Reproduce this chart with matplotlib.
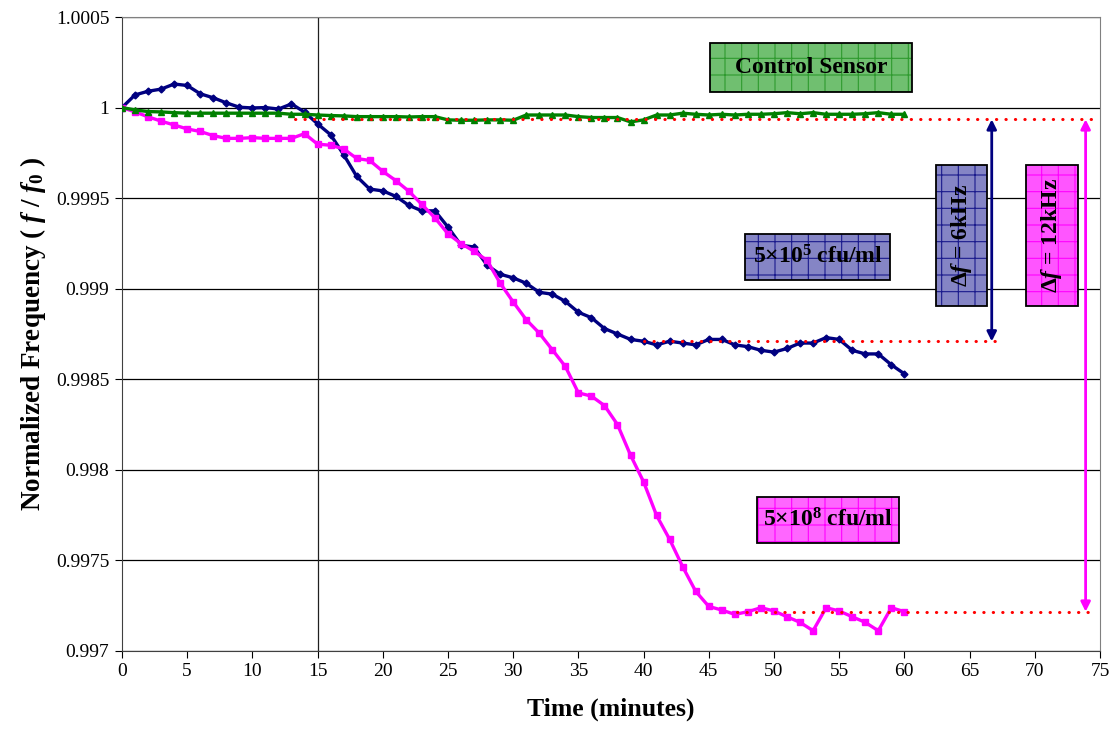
import numpy as np
import matplotlib.pyplot as plt
from matplotlib.patches import Rectangle

plt.rcParams['font.family'] = 'Liberation Serif'
plt.rcParams['mathtext.fontset'] = 'custom'
plt.rcParams['mathtext.rm'] = 'Liberation Serif:bold'
plt.rcParams['mathtext.it'] = 'Liberation Serif:italic:bold'
plt.rcParams['mathtext.bf'] = 'Liberation Serif:bold'
plt.rcParams['hatch.linewidth'] = 0.8

# sensor readings, one per minute
minutes = np.arange(61)

low_conc = [1.0, 1.000070, 1.000090, 1.000102, 1.000130, 1.000122, 1.000076, 1.000054,
            1.000026, 1.000002, 0.999998, 1.0, 0.999992, 1.000020, 0.999975, 0.99991,
            0.99985, 0.99974, 0.99962, 0.99955, 0.99954, 0.99951, 0.99946, 0.99943,
            0.99943, 0.99934, 0.99924, 0.99923, 0.99913, 0.99908, 0.99906, 0.99903,
            0.99898, 0.99897, 0.99893, 0.99887, 0.99884, 0.99878, 0.99875, 0.99872,
            0.99871, 0.99869, 0.99871, 0.99870, 0.99869, 0.99872, 0.99872, 0.99869,
            0.99868, 0.99866, 0.99865, 0.99867, 0.99870, 0.99870, 0.99873, 0.99872,
            0.99866, 0.99864, 0.99864, 0.99858, 0.99853]

high_conc = [1.0, 0.999976, 0.999949, 0.999925, 0.999904, 0.999882, 0.999868, 0.999845,
             0.99983, 0.99983, 0.999834, 0.99983, 0.99983, 0.99983, 0.999856, 0.999798,
             0.999792, 0.999772, 0.999719, 0.999708, 0.999648, 0.999597, 0.999538, 0.999465,
             0.999391, 0.999303, 0.999249, 0.999207, 0.999156, 0.999031, 0.998927, 0.998829,
             0.998755, 0.998663, 0.998571, 0.998425, 0.998407, 0.998355, 0.99825, 0.998081,
             0.997934, 0.997748, 0.997616, 0.997465, 0.997329, 0.997246, 0.997226, 0.997202,
             0.997217, 0.997239, 0.997221, 0.997189, 0.997158, 0.997112, 0.997239, 0.997221,
             0.997189, 0.997158, 0.997112, 0.997239, 0.997217]

# control sensor drift in parts per million
control_ppm = [0, -13, -22, -24, -28, -31, -31, -31, -31, -31, -31, -31, -31, -37, -37,
               -41, -44, -46, -50, -50, -50, -50, -52, -50, -50, -68, -70, -70, -68, -68,
               -70, -41, -41, -41, -41, -50, -55, -55, -55, -79, -68, -41, -41, -31, -37,
               -41, -37, -41, -37, -37, -34, -28, -34, -28, -37, -37, -37, -34, -28, -37, -37]
control = 1 + np.array(control_ppm) * 1e-6

# steady-state levels used for the frequency shifts
level_control = 0.999935
level_low = 0.998709
level_high = 0.997217

x_ticks = np.arange(0, 76, 5)
y_ticks = [0.997, 0.9975, 0.998, 0.9985, 0.999, 0.9995, 1.0, 1.0005]
y_labels = ['0.997', '0.9975', '0.998', '0.9985', '0.999', '0.9995', '1', '1.0005']

fig = plt.figure(figsize=(11.14, 7.36), dpi=100)
ax = fig.add_axes([0.1095, 0.1155, 0.8779, 0.8614])

ax.plot(minutes, low_conc, color='#000080', lw=2.4, marker='D', ms=3.5, zorder=3)
ax.plot(minutes, high_conc, color='#FF00FF', lw=2.4, marker='s', ms=5, zorder=3)
ax.plot(minutes, control, color='#008000', lw=2.4, marker='^', ms=5, zorder=3)

dots = dict(color='red', lw=2.2, ls=(0, (0.1, 3.0)), dash_capstyle='round', zorder=4)
ax.plot([13.3, 74.3], [level_control, level_control], **dots)
ax.plot([40, 67.2], [level_low, level_low], **dots)
ax.plot([47.2, 74.3], [level_high, level_high], **dots)

ax.axvline(15, color='#202020', lw=0.9, zorder=2)

ax.annotate('', xy=(66.7, level_low), xytext=(66.7, level_control),
            arrowprops=dict(arrowstyle='<|-|>', color='#000080', lw=2,
                            mutation_scale=14, shrinkA=0, shrinkB=0), zorder=5)
ax.annotate('', xy=(73.9, level_high), xytext=(73.9, level_control),
            arrowprops=dict(arrowstyle='<|-|>', color='#FF00FF', lw=2,
                            mutation_scale=14, shrinkA=0, shrinkB=0), zorder=5)


def label_box(x0, y0, x1, y1, face, grid, text, rotation=0):
    ax.add_patch(Rectangle((x0, y0), x1 - x0, y1 - y0, facecolor=face, edgecolor=grid,
                           hatch='+', lw=0, zorder=6))
    ax.add_patch(Rectangle((x0, y0), x1 - x0, y1 - y0, fill=False, edgecolor='black',
                           lw=1.3, zorder=7))
    ax.text((x0 + x1) / 2, (y0 + y1) / 2, text, ha='center', va='center',
            rotation=rotation, fontsize=17, fontweight='bold', zorder=8)


label_box(45.1, 1.0000844, 60.6, 1.000357, '#70BF70', '#2E9A2E', 'Control Sensor')
label_box(47.8, 0.99905, 58.9, 0.99930, '#8585C5', '#1A1A8C', r'5$\times$10$^{5}$ cfu/ml')
label_box(48.7, 0.997594, 59.6, 0.997848, '#FF66FF', '#FF00FF', r'5$\times$10$^{8}$ cfu/ml')
label_box(62.4, 0.998902, 66.35, 0.999682, '#8585C5', '#1A1A8C', r'$\Delta f$ = 6kHz', rotation=90)
label_box(69.3, 0.998902, 73.3, 0.999682, '#FF55FF', '#FF00FF', r'$\Delta f$ = 12kHz', rotation=90)

ax.set_xlim(0, 75)
ax.set_ylim(0.997, 1.0005)
ax.set_xticks(x_ticks)
ax.set_yticks(y_ticks)
ax.set_yticklabels(y_labels)
ax.yaxis.grid(True, color='black', lw=0.9)
ax.set_axisbelow(True)
ax.tick_params(direction='out', length=5, width=0.8, labelsize=14, pad=4)

for side in ['top', 'right']:
    ax.spines[side].set_color('#808080')
ax.spines['left'].set_color('#404040')
ax.spines['bottom'].set_color('#404040')

ax.set_xlabel('Time (minutes)', fontsize=18.5, fontweight='bold', labelpad=12)
ax.set_ylabel(r'Normalized Frequency ( $f$ / $f_0$ )', fontsize=19.5, fontweight='bold', labelpad=6)

fig.savefig('out.png', dpi=100)
